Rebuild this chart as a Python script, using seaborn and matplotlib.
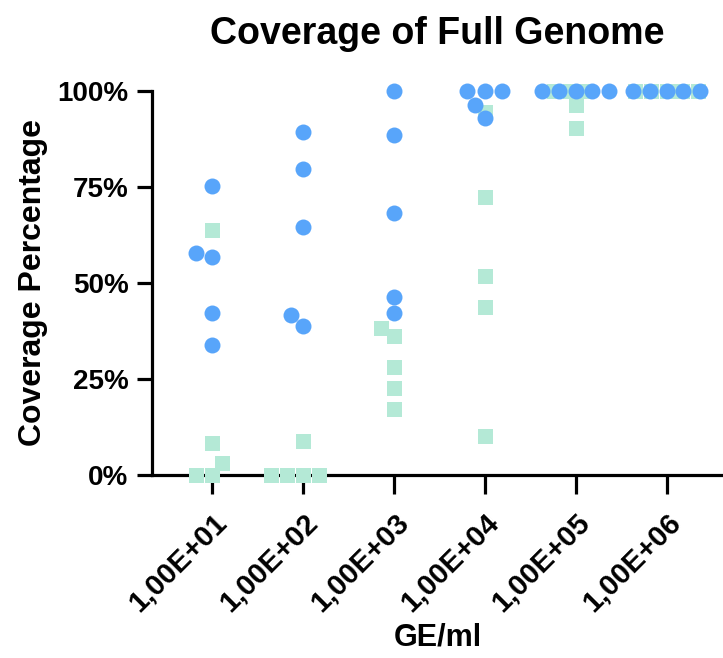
import pandas as pd
import seaborn as sns
import matplotlib.pyplot as plt

# Categories on the x axis
doses = ["1,00E+01", "1,00E+02", "1,00E+03", "1,00E+04", "1,00E+05", "1,00E+06"]

# Blue circles (coverage %), 5 per dose
blue_dose = [doses[0]] * 5 + [doses[1]] * 5 + [doses[2]] * 5 + [doses[3]] * 5 + [doses[4]] * 5 + [doses[5]] * 5
blue_cov = [75.3, 57.8, 56.8, 42.2, 33.9,
            89.3, 79.7, 64.6, 41.7, 38.8,
            100, 88.5, 68.2, 46.4, 42.2,
            100, 100, 100, 96.4, 93.0,
            100, 100, 100, 100, 100,
            100, 100, 100, 100, 100]

# Green squares (coverage %), 5 per dose
green_dose = list(blue_dose)
green_cov = [63.8, 8.3, 3.1, 0, 0,
             8.9, 0, 0, 0, 0,
             38.3, 36.2, 28.1, 22.7, 17.2,
             94.5, 72.4, 51.8, 43.8, 10.2,
             100, 100, 100, 96.4, 90.4,
             100, 100, 100, 100, 100]

blue_df = pd.DataFrame({"dose": blue_dose, "cov": blue_cov})
green_df = pd.DataFrame({"dose": green_dose, "cov": green_cov})

sns.set_style("ticks")
plt.rcParams['font.family'] = ['Liberation Sans', 'DejaVu Sans']
plt.rcParams['font.weight'] = 'bold'
plt.rcParams['text.color'] = 'black'
plt.rcParams['axes.labelcolor'] = 'black'
plt.rcParams['xtick.color'] = 'black'
plt.rcParams['ytick.color'] = 'black'
plt.rcParams['axes.edgecolor'] = 'black'

fig = plt.figure(figsize=(7.23, 6.58), dpi=100)
ax = fig.add_axes([152 / 723, 1 - 475 / 658, 1 - 152 / 723, (475 - 91) / 658])

sns.swarmplot(data=green_df, x="dose", y="cov", order=doses, ax=ax,
              color="#B4E9D6", marker="s", size=10.8, linewidth=0, warn_thresh=1)
sns.swarmplot(data=blue_df, x="dose", y="cov", order=doses, ax=ax,
              color="#58A5FA", marker="o", size=11.5, linewidth=0, warn_thresh=1)

for coll in ax.collections:
    coll.set_clip_on(False)
    coll.set_zorder(5)

ax.set_xlim(-0.66, 5.62)
ax.set_ylim(0, 100)
ax.set_yticks([0, 25, 50, 75, 100])
ax.set_yticklabels(["0%", "25%", "50%", "75%", "100%"])
ax.tick_params(axis="y", length=11, width=2.3, labelsize=20, pad=6, colors="black")
ax.tick_params(axis="x", length=14, width=2.3, labelsize=21, pad=10, colors="black")
plt.setp(ax.get_xticklabels(), rotation=45, ha="right", rotation_mode="anchor")
for lab in ax.get_xticklabels() + ax.get_yticklabels():
    lab.set_fontweight("bold")

sns.despine(ax=ax)
ax.spines["left"].set_linewidth(2.3)
ax.spines["bottom"].set_linewidth(2.3)

ax.set_xlabel("GE/ml", fontsize=22, fontweight="bold", labelpad=4)
ax.set_ylabel("Coverage Percentage", fontsize=23, fontweight="bold", labelpad=7)
ax.set_title("Coverage of Full Genome", fontsize=27, fontweight="bold", pad=34)

plt.savefig("out.png", dpi=100)
